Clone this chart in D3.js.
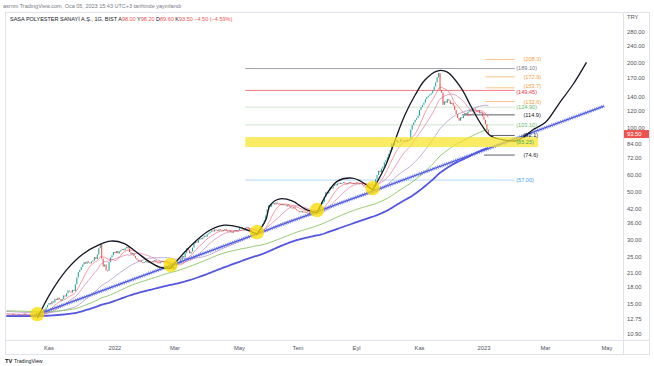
<!DOCTYPE html>
<html><head><meta charset="utf-8">
<script src="https://cdn.jsdelivr.net/npm/d3@7/dist/d3.min.js"></script>
<style>
body{margin:0;background:#fff;}
svg{display:block;font-family:"Liberation Sans",Arial,sans-serif;}
</style>
</head><body>
<svg id="c" width="654" height="366"></svg>
<script>
// ---------------- DATA ----------------
const startDay = "2021-09-20";
const lastFutureDay = "2023-05-31";
const holidays = ["2021-10-29","2022-05-02","2022-05-03","2022-05-04","2022-05-19","2022-07-11","2022-07-12","2022-07-15","2022-08-30","2023-04-21","2023-05-01","2023-05-19"];

// daily closes (one per trading day, starting 2021-09-20)
const closes = [
 13.3,13.4,13.2,13.3,13.5, 13.4,13.2,13.3,13.5,13.4, 13.3,13.4,13.6,13.4,13.3, 13.2,13.4,13.3,13.1,13.3,
 13.4,13.2,13.5,13.6,13.9, 14.2,14.0,14.5,14.9,
 15.2,15.0,15.5,15.3,15.9, 15.7,16.1,15.8,15.6,15.9, 16.5,16.3,16.9,17.4,17.2, 17.0,17.5,17.3,18.6,20.0,
 21.2,21.7,22.4,23.0,23.6, 23.2,23.8,23.5,23.3,23.7, 24.0,24.9,24.4,25.6,27.4, 28.9,24.5,22.5,23.0,21.6,
 21.5,23.6,24.8,25.4,26.3,
 26.0,26.6,25.9,26.5,26.9, 27.2,26.8,27.4,27.8,27.3, 26.3,25.7,26.0,25.2,24.6, 24.2,23.8,24.1,23.6,23.4,
 23.6,23.9,23.5,23.7,23.4, 23.6,23.9,24.1,23.7,23.5, 23.3,23.7,23.9,23.6,23.8, 23.6,23.4,23.2,22.0,22.6,
 21.8,22.5,23.1,23.6,23.4, 24.4,25.2,24.8,26.0,27.4, 26.8,25.9,26.4,27.6,28.9, 29.5,29.1,30.0,30.5,30.2,
 30.8,31.4,31.0,31.9,32.2, 32.7,33.2,32.8,33.5,33.3, 33.0,33.6,33.2,32.9,33.3, 33.6,33.1,32.8,33.2,32.6,
 32.4,32.9,33.3,32.8,33.3, 34.0,34.4, 34.0,33.6,34.2,34.5,34.0, 33.4,32.6,32.0,31.6, 32.2,31.8,32.6,33.4,34.8,
 35.6,37.1,39.0,41.5,43.5, 42.8,44.0,44.5,43.9,44.8, 44.5,43.8,44.2,43.5,44.0, 43.5,43.0,43.7,42.9,42.4,
 42.1,42.6,41.7,41.2,40.8, 40.4,40.9,40.2,40.6,40.4, 40.0,39.6, 40.4,40.1,40.8,41.3,40.9, 41.3,41.0,42.2,44.0,45.0,
 47.5,50.1,49.3,51.0,52.8, 52.0,53.6,54.5,53.8,55.0, 55.4,54.6,55.2,55.8,55.0, 54.5,55.3,55.8,55.1,54.7,
 55.2,55.0,55.5,55.1, 54.6,55.3,54.0,53.2,52.8, 53.5,52.6,51.8,52.2,51.5, 54.0,57.5,60.2,63.0,62.0,
 64.5,66.0,68.9,70.5,72.9, 75.5,78.6,84.8,82.8,86.3, 87.6,85.2,86.0,88.5,87.1, 86.0,87.6,86.4,88.3,87.6,
 98.0,103.0,106.0,109.0,111.0, 114.0,121.0,125.0,128.0,131.0, 136.0,139.0,141.0,143.0,145.0,
 150.0,156.0,163.0,172.0,180.0, 150.0,146.0,128.0,133.0,131.0, 136.0,134.0,129.0,131.0,127.0,
 121.0,116.0,111.0,108.0,112.0, 111.0,114.0,117.0,116.0,119.0, 121.0,119.0,122.0,123.0,121.0,
 120.0,121.0,117.0,118.0,113.0, 109.0,104.0,98.0,93.5
];

// simple moving averages drawn by the original chart
const maPeriods = [10, 20, 50, 100, 150];
const maPriorLevels = [13.4, 13.6, 13.9, 14.0, 13.2];   // level before the first visible bar
const maColors = ["rgba(242,54,69,0.55)", "rgba(222,105,160,0.7)", "rgba(170,140,200,0.8)", "rgba(135,195,95,0.9)", "#5356df"];
const maWidths = [0.9, 0.9, 0.9, 1, 1.8];

// price axis
const priceTicks = [280, 240, 200, 170, 140, 120, 100, 84, 72, 60, 50, 42, 36, 30, 25, 21, 18, 15, 12.75, 10.90];
const monthNames = ["Oca","Şub","Mar","Nis","May","Haz","Tem","Ağu","Eyl","Eki","Kas","Ara"];

// horizontal levels
const levelValues = [208.3, 189.10, 172.9, 153.7, 149.45, 132.6, 124.90, 114.9, 103.10, 92.1, 74.6, 57.00];
const levelLabels = ["(208.3)","(189.10)","(172.9)","(153.7)","(149.45)","(132.6)","(124.90)","(114.9)","(103.10)","(92.1)","(74.6)","(57.00)"];
const levelStart = ["2023-01-03","2022-05-11","2023-01-03","2023-01-03","2022-05-11","2023-01-03","2022-05-11","2022-12-12","2022-05-11","2023-01-06","2023-01-02","2022-05-11"];
const levelEnd   = ["2023-01-31","2023-01-31","2023-01-31","2023-01-31","2023-01-31","2023-01-31","2023-01-31","2023-01-31","2023-01-31","2023-01-31","2023-01-31","2023-01-31"];
const levelLabelDay = ["2023-02-08","2023-02-01","2023-02-08","2023-02-08","2023-02-01","2023-02-08","2023-02-01","2023-02-08","2023-02-01","2023-02-08","2023-02-08","2023-02-01"];
const levelLineColors = ["#f9c68e","#9fa2ab","#f9c68e","#f9c68e","#f4797f","#f9c68e","#cfe3cf","#5d606b","#cfe3cf","#5d606b","#5d606b","#b3d7f7"];
const levelTextColors = ["#f59d3d","#787b86","#f59d3d","#f59d3d","#f23645","#f59d3d","#66bb6a","#131722","#66bb6a","#131722","#131722","#42a5f5"];

// yellow support zone
const zoneLow = 81.3, zoneHigh = 90.5, zoneLabel = "(85.25)";
const zoneStart = "2022-05-11", zoneEnd = "2023-02-22", zoneLabelDay = "2023-02-01";

// rising trendline
const trendDays = ["2021-10-14", "2023-04-27"];
const trendPrices = [13.2, 126.3];

// touch points (yellow circles)
const touchDays = ["2021-10-19", "2022-02-24", "2022-05-24", "2022-07-25", "2022-09-16"];
const touchPrices = [13.5, 22.9, 32.6, 41.3, 52.3];

// hand-drawn wave arcs
const arcs = [
 [["2021-10-19",12.9],["2021-11-02",16.9],["2021-11-17",21.7],["2021-12-02",25.7],["2021-12-17",28.4],["2021-12-29",29.6],["2022-01-11",28.9],["2022-01-23",26.3],["2022-02-04",23.6],["2022-02-15",22.3],["2022-02-24",22.1]],
 [["2022-02-24",22.1],["2022-03-11",26.9],["2022-03-25",31.2],["2022-04-05",33.6],["2022-04-17",35.1],["2022-05-03",34.4],["2022-05-24",31.9]],
 [["2022-05-24",31.9],["2022-06-01",37.1],["2022-06-06",43.5],["2022-06-14",46.5],["2022-06-27",45.6],["2022-07-08",41.7],["2022-07-25",40.1]],
 [["2022-07-25",40.1],["2022-08-03",49.6],["2022-08-12",56.4],["2022-08-26",58.2],["2022-09-07",55.7],["2022-09-16",51.2]],
 [["2022-09-16",51.2],["2022-09-29",67.0],["2022-10-08",87.6],["2022-10-18",114.7],["2022-10-27",142.2],["2022-11-06",167.1],["2022-11-17",184.1],["2022-11-28",182.0],["2022-12-10",153.4],["2022-12-20",126.4],["2022-12-29",104.1],["2023-01-08",91.5],["2023-01-20",87.6],["2023-02-01",87.0],["2023-02-08",90.5],["2023-02-16",97.4],["2023-03-01",106.1],["2023-03-15",131.9],["2023-03-28",160.1],["2023-04-10",202.0]]
];

const headerTop = "asrnm TradingView.com, Oca 05, 2023 15:43 UTC+3 tarihinde yayınlandı";
const symbolName = "SASA POLYESTER SANAYİ A.Ş., 1G, BIST";
const ohlcLetters = ["A","Y","D","K"];
const ohlcValues = ["98.00","98.20","89.60","93.50"];
const changeText = "−4.50 (−4.59%)";
const lastPrice = 93.50;

// ---------------- BUILD ----------------
const parse = d3.timeParse("%Y-%m-%d");
const fmt = d3.timeFormat("%Y-%m-%d");
const days = [];
for (let d = parse(startDay); d <= parse(lastFutureDay); d = d3.timeDay.offset(d, 1)) {
  const wd = d.getDay();
  if (wd === 0 || wd === 6) continue;
  if (holidays.includes(fmt(d))) continue;
  days.push(d);
}
const dayTimes = days.map(d => +d);
function idx(s) {
  const t = +parse(s);
  const i = d3.bisectLeft(dayTimes, t);
  if (i < dayTimes.length && dayTimes[i] === t) return i;
  if (i === 0) return 0;
  if (i >= dayTimes.length) return dayTimes.length - 1;
  return i - 1 + (t - dayTimes[i-1]) / (dayTimes[i] - dayTimes[i-1]);
}

const svg = d3.select("#c");
const W = 654, H = 366;
const plotL = 5, plotR = 623, plotT = 13, plotB = 340;

const x = d3.scaleLinear().domain([0, 421]).range([6.53, 623.1]);
const y = d3.scaleLog().domain([10.9, 280]).range([334, 32]);

svg.append("rect").attr("width", W).attr("height", H).attr("fill", "#fff");

svg.append("defs").append("clipPath").attr("id", "clip")
  .append("rect").attr("x", plotL).attr("y", plotT).attr("width", plotR - plotL).attr("height", plotB - plotT);

const g = svg.append("g").attr("clip-path", "url(#clip)");

// level lines
levelValues.forEach((v, k) => {
  g.append("line")
    .attr("x1", x(idx(levelStart[k]))).attr("x2", x(idx(levelEnd[k])))
    .attr("y1", y(v)).attr("y2", y(v))
    .attr("stroke", levelLineColors[k]).attr("stroke-width", 1);
});

// candles
const candles = closes.map((c, i) => ({ i, o: i ? closes[i-1] : c, c }));
g.selectAll("rect.candle").data(candles).join("rect")
  .attr("class", "candle")
  .attr("x", d => x(d.i) - 0.55)
  .attr("width", 1.1)
  .attr("y", d => y(Math.max(d.o, d.c)))
  .attr("height", d => Math.max(1, Math.abs(y(d.o) - y(d.c))))
  .attr("fill", d => d.c >= d.o ? "#26a69a" : "#ef5350");

// moving averages
maPeriods.forEach((p, k) => {
  const vals = closes.map((c, i) => {
    let s = 0;
    for (let j = i - p + 1; j <= i; j++) s += j < 0 ? maPriorLevels[k] : closes[j];
    return [i, s / p];
  });
  g.append("path").datum(vals)
    .attr("fill", "none").attr("stroke", maColors[k]).attr("stroke-width", maWidths[k])
    .attr("d", d3.line().x(d => x(d[0])).y(d => y(d[1])));
});

// trendline (hatched look)
const tl = trendDays.map((d, k) => [idx(d), trendPrices[k]]);
const tline = d3.line().x(d => x(d[0])).y(d => y(d[1]));
g.append("path").datum(tl).attr("d", tline).attr("stroke", "#3f4ee0").attr("stroke-width", 1.3).attr("fill", "none");
g.append("path").datum(tl).attr("d", tline).attr("stroke", "#5a67ea").attr("stroke-width", 3.6)
  .attr("stroke-dasharray", "0.8,1.1").attr("fill", "none").attr("opacity", 0.85);

// arcs
const arcLine = d3.line().curve(d3.curveCatmullRom.alpha(0.5)).x(d => x(idx(d[0]))).y(d => y(d[1]));
arcs.forEach(pts => {
  g.append("path").datum(pts).attr("d", arcLine)
    .attr("fill", "none").attr("stroke", "#131722").attr("stroke-width", 1.3);
});

// yellow zone (semi transparent, over lines)
g.append("rect")
  .attr("x", x(idx(zoneStart))).attr("width", x(idx(zoneEnd)) - x(idx(zoneStart)))
  .attr("y", y(zoneHigh)).attr("height", y(zoneLow) - y(zoneHigh))
  .attr("fill", "rgba(247,227,40,0.72)");

// touch circles
touchDays.forEach((d, k) => {
  g.append("circle").attr("cx", x(idx(d))).attr("cy", y(touchPrices[k])).attr("r", 7.2)
    .attr("fill", "rgba(250,220,0,0.78)");
});

// level labels (the two crowded labels are nudged apart slightly)
const labelNudge = {"(153.7)": -1.8, "(149.45)": 1.6};
levelValues.forEach((v, k) => {
  svg.append("text")
    .attr("x", x(idx(levelLabelDay[k]))).attr("y", y(v) + (labelNudge[levelLabels[k]] || 0)).attr("dy", "0.35em")
    .attr("font-size", 5.6).attr("fill", levelTextColors[k]).text(levelLabels[k]);
});
svg.append("text")
  .attr("x", x(idx(zoneLabelDay))).attr("y", y(Math.sqrt(zoneLow * zoneHigh))).attr("dy", "0.35em")
  .attr("font-size", 5.6).attr("fill", "#4caf50").text(zoneLabel);

// frame
svg.append("rect").attr("x", 5.5).attr("y", 12.5).attr("width", 644).attr("height", 342)
  .attr("fill", "none").attr("stroke", "#e0e3eb");
svg.append("line").attr("x1", 623.5).attr("x2", 623.5).attr("y1", 12.5).attr("y2", 354.5).attr("stroke", "#e0e3eb");
svg.append("line").attr("x1", 5.5).attr("x2", 649.5).attr("y1", 340.5).attr("y2", 340.5).attr("stroke", "#e0e3eb");

// price axis
svg.append("text").attr("x", 627).attr("y", 17).attr("dy", "0.35em").attr("font-size", 5.8).attr("fill", "#50535e").text("TRY");
svg.selectAll("text.pt").data(priceTicks).join("text")
  .attr("class", "pt").attr("x", 627).attr("y", d => y(d)).attr("dy", "0.35em")
  .attr("font-size", 5.8).attr("fill", "#50535e").text(d => d.toFixed(2));
svg.append("rect").attr("x", 624).attr("y", y(lastPrice) - 4).attr("width", 25).attr("height", 8).attr("fill", "#ef5350");
svg.append("text").attr("x", 627).attr("y", y(lastPrice)).attr("dy", "0.35em")
  .attr("font-size", 5.8).attr("fill", "#fff").text(lastPrice.toFixed(2));

// time axis
const timeTicks = [];
for (let i = 1; i < days.length; i++) {
  const m = days[i].getMonth();
  if (m !== days[i-1].getMonth() && m % 2 === 0 && x(i) < plotR) timeTicks.push(i);
}
svg.selectAll("text.tt").data(timeTicks).join("text")
  .attr("class", "tt").attr("x", d => x(d)).attr("y", 348).attr("dy", "0.35em")
  .attr("text-anchor", "middle").attr("font-size", 5.8).attr("fill", "#50535e")
  .text(d => days[d].getMonth() === 0 ? days[d].getFullYear() : monthNames[days[d].getMonth()]);

// header
svg.append("text").attr("x", 3).attr("y", 6).attr("dy", "0.35em").attr("font-size", 5.5).attr("fill", "#787b86").text(headerTop);
const hdr = svg.append("text").attr("x", 10).attr("y", 19).attr("dy", "0.35em").attr("font-size", 5.5).attr("fill", "#131722");
hdr.append("tspan").text(symbolName + "  ");
ohlcLetters.forEach((l, k) => {
  hdr.append("tspan").attr("fill", "#131722").text(l);
  hdr.append("tspan").attr("fill", "#ef5350").text(ohlcValues[k] + "  ");
});
hdr.append("tspan").attr("fill", "#ef5350").text(changeText);

// logo
const logo = svg.append("text").attr("x", 5).attr("y", 361).attr("dy", "0.35em").attr("font-size", 5.8).attr("fill", "#131722");
logo.append("tspan").attr("font-weight", "bold").text("TV ");
logo.append("tspan").attr("font-size", 5.2).text("TradingView");
</script>
</body></html>
